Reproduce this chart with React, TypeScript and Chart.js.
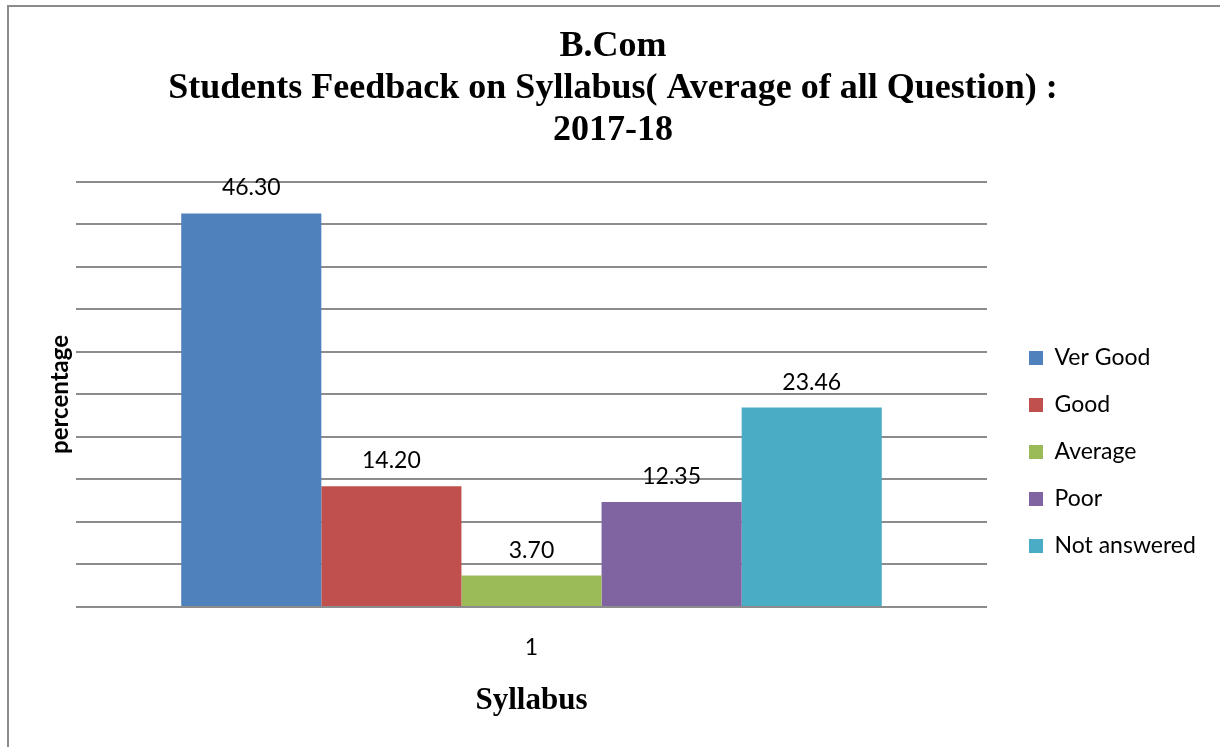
import React, { useEffect, useRef } from 'react';
import { Chart, registerables } from 'chart.js';

Chart.register(...registerables);

// ---- data ----
const categories = ['1'];
const seriesLabels = ['Ver Good', 'Good', 'Average', 'Poor', 'Not answered'];
const verGood = [46.3];
const good = [14.2];
const average = [3.7];
const poor = [12.35];
const notAnswered = [23.46];
const titleLines = ['B.Com', 'Students Feedback on Syllabus( Average of all Question) :', '2017-18'];
const xTitle = 'Syllabus';
const yTitle = 'percentage';
const yMin = 0;
const yMax = 50;
const yStep = 5;

// ---- styles ----
const COLORS = ['#4F81BD', '#C0504D', '#9BBB59', '#8064A2', '#4BACC6'];
const SANS = 'Lato, "Open Sans", sans-serif';
const SERIF = '"Liberation Serif", "Times New Roman", serif';

const valueLabels = {
  id: 'valueLabels',
  afterDatasetsDraw(chart: any) {
    const ctx = chart.ctx;
    ctx.save();
    ctx.font = `23px ${SANS}`;
    ctx.fillStyle = '#000';
    ctx.textAlign = 'center';
    ctx.textBaseline = 'alphabetic';
    chart.data.datasets.forEach((ds: any, i: number) => {
      const meta = chart.getDatasetMeta(i);
      meta.data.forEach((bar: any, j: number) => {
        const v = ds.data[j] as number;
        ctx.fillText(v.toFixed(2), bar.x, bar.y - 18);
      });
    });
    ctx.restore();
  },
};

export default function App() {
  const canvasRef = useRef<HTMLCanvasElement | null>(null);

  useEffect(() => {
    if (!canvasRef.current) return;
    const series = [verGood, good, average, poor, notAnswered];
    const chart = new Chart(canvasRef.current, {
      type: 'bar',
      data: {
        labels: categories,
        datasets: series.map((d, i) => ({
          label: seriesLabels[i],
          data: d,
          backgroundColor: COLORS[i],
          borderWidth: 0,
          categoryPercentage: 0.769,
          barPercentage: 1,
          yAxisID: 'y',
        })),
      },
      options: {
        responsive: true,
        maintainAspectRatio: false,
        animation: false,
        layout: { padding: { left: 25, right: 19, top: 0, bottom: 0 } },
        plugins: {
          title: {
            display: true,
            text: titleLines,
            color: '#000',
            font: { family: SERIF, size: 36, weight: 'bold', lineHeight: 1.155 },
            padding: { top: 26.4, bottom: 30.8 },
          },
          legend: {
            display: true,
            position: 'right',
            align: 'center',
            title: { display: true, text: '', padding: { top: 142.6, bottom: 0 } },
            labels: {
              boxWidth: 14,
              boxHeight: 14,
              padding: 24,
              color: '#000',
              font: { family: SANS, size: 23 },
            },
          },
          tooltip: { enabled: false },
        },
        scales: {
          x: {
            grid: { display: false, drawTicks: false },
            border: { display: false },
            ticks: { color: '#000', padding: 27, font: { family: SANS, size: 23 } },
            title: {
              display: true,
              text: xTitle,
              color: '#000',
              font: { family: SERIF, size: 31, weight: 'bold' },
              padding: { top: 10, bottom: 27 },
            },
            afterFit: (s: any) => {
              s.height = 140;
            },
          },
          y: {
            min: yMin,
            max: yMax,
            ticks: { display: false, stepSize: yStep },
            grid: { color: '#8c8c8c', lineWidth: 2, drawTicks: false },
            border: { display: false },
            title: {
              display: true,
              text: yTitle,
              color: '#000',
              font: { family: SANS, size: 24, weight: 'bold' },
              padding: { top: 20.6, bottom: 1.6 },
            },
          },
          pad: {
            type: 'linear',
            position: 'right',
            display: true,
            grid: { display: false },
            border: { display: false },
            ticks: { display: false },
            afterFit: (s: any) => {
              s.width = 18;
            },
          },
        },
      } as any,
      plugins: [valueLabels],
    });
    return () => chart.destroy();
  }, []);

  return (
    <div
      style={{
        position: 'fixed',
        left: 0,
        top: 0,
        width: 1220,
        height: 747,
        overflow: 'hidden',
        background: '#fff',
      }}
    >
      <div
        style={{
          position: 'absolute',
          left: 7,
          top: 5,
          width: 1213,
          height: 742,
          borderLeft: '2px solid #8c8c8c',
          borderTop: '2px solid #8c8c8c',
          boxSizing: 'border-box',
        }}
      />
      <div style={{ position: 'absolute', left: 0, top: 0, width: 1220, height: 747 }}>
        <canvas ref={canvasRef} />
      </div>
    </div>
  );
}
